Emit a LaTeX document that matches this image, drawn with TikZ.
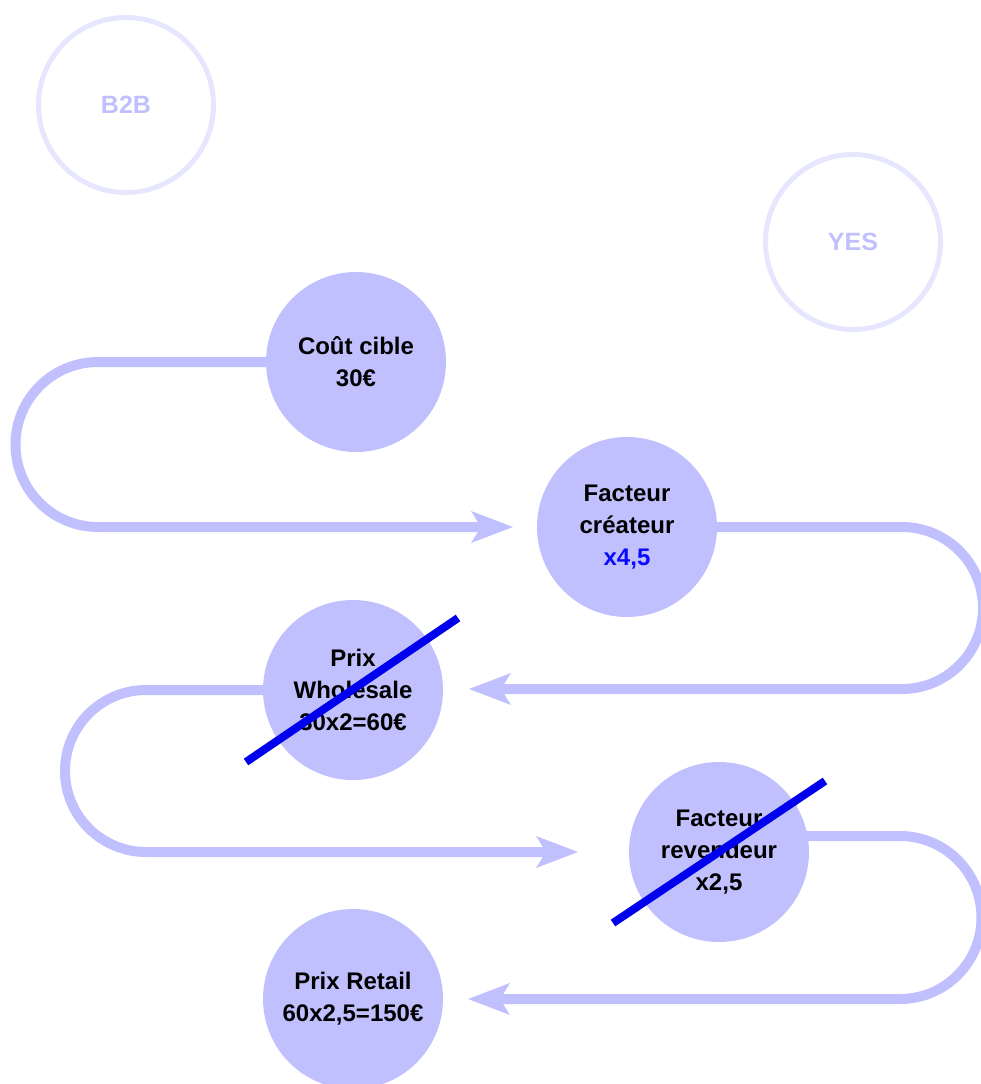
\documentclass[tikz,border=0pt]{standalone}
\usepackage{fontspec}
\setmainfont{Liberation Sans}
\usetikzlibrary{arrows.meta,backgrounds}
\definecolor{lav}{RGB}{192,192,255}
\definecolor{pale}{RGB}{230,230,255}
\definecolor{strike}{RGB}{0,0,238}
\definecolor{accent}{RGB}{10,10,255}
\tikzset{
  x=1pt, y=1pt,
  stepnode/.style={circle, fill=lav, minimum size=180pt, inner sep=0pt,
    align=center, font=\fontsize{24}{32}\selectfont\bfseries, text=black},
  ringnode/.style={circle, draw=pale, line width=5pt, minimum size=175pt,
    inner sep=0pt, font=\fontsize{25}{30}\selectfont\bfseries, text=lav},
  flow/.style={draw=lav, line width=10pt, line cap=butt},
  flowtip/.style={flow, -{Stealth[length=42pt, width=32pt, inset=10pt, line width=0pt]}},
  cross/.style={draw=strike, line width=8pt, line cap=butt}
}
\begin{document}
\begin{tikzpicture}
\useasboundingbox (0,0) rectangle (981,-1084);

% step circles
\node[stepnode] (cout) at (356,-362) {Coût cible\\30€};
\node[stepnode] (createur) at (627,-527) {Facteur\\créateur\\\textcolor{accent}{x4,5}};
\node[stepnode] (wholesale) at (353,-690) {Prix\\Wholesale\\30x2=60€};
\node[stepnode] (revendeur) at (719,-852) {Facteur\\revendeur\\x2,5};
\node[stepnode] (retail) at (353,-999) {Prix Retail\\60x2,5=150€};

% faint markers
\node[ringnode] (b2b) at (126,-105) {B2B};
\node[ringnode] (yes) at (853,-242) {YES};

% arrow ends
\coordinate (tip1) at (513,-527);
\coordinate (tip2) at (469,-689);
\coordinate (tip3) at (578,-852);
\coordinate (tip4) at (468,-999);

% serpentine connectors, behind the circles
\begin{pgfonlayer}{background}
  \draw[flowtip] (cout.center) -- (98,-362)
    arc[start angle=90, end angle=270, radius=82.5] -- (tip1);
  \draw[flowtip] (createur.center) -- (902,-527)
    arc[start angle=90, end angle=-90, radius=81] -- (tip2);
  \draw[flowtip] (wholesale.center) -- (146,-690)
    arc[start angle=90, end angle=270, radius=81] -- (tip3);
  \draw[flowtip] ([yshift=16pt]revendeur.center) -- (900,-836)
    arc[start angle=90, end angle=-90, radius=81.5] -- (tip4);
\end{pgfonlayer}

% strike-through marks
\coordinate (s1a) at (246,-762);
\coordinate (s1b) at (458,-618);
\coordinate (s2a) at (613,-923);
\coordinate (s2b) at (825,-781);
\draw[cross] (s1a) -- (s1b);
\draw[cross] (s2a) -- (s2b);
\end{tikzpicture}
\end{document}
